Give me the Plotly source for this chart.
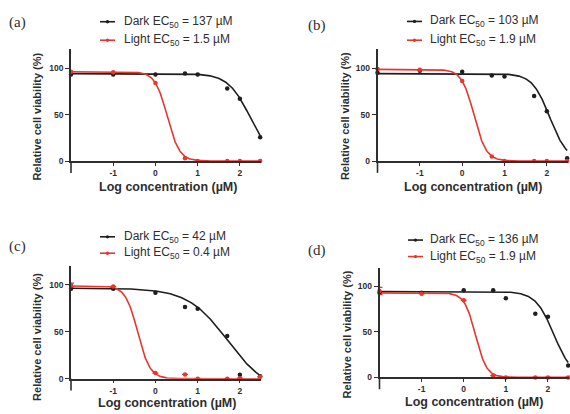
import numpy as np
import plotly.graph_objects as go

W, H = 570, 414

# ---------------- data ----------------
log_conc = [-2, -1, 0, 0.7, 1, 1.7, 2, 2.48]

panel_labels = ["(a)", "(b)", "(c)", "(d)"]
dark_ec50_text = ["137", "103", "42", "136"]
light_ec50_text = ["1.5", "1.9", "0.4", "1.9"]

dark_a = [93, 93, 93, 94, 93, 78, 67, 25.5]
light_a = [96, 95.5, 84, 3, 0, 0, 0, 0]
dark_b = [95, 97, 96, 92, 91, 70, 53.5, 3]
light_b = [99, 98, 86, 5, 0, 0, 0, 0]
dark_c = [96, 96, 91.6, 76.4, 74.7, 45.6, 4.2, 2.7]
light_c = [100, 98.5, 6, 4.5, 0, 0, 0.5, 2]
dark_d = [93, 93, 96, 96, 87, 70, 66.6, 13]
light_d = [95, 92, 85, 2, 0, 0, 0, 0]
light_err_c = [2, 0, 0, 0, 0, 0, 0, 0]
light_err_d = [4, 0, 0, 0, 0, 0, 0, 0]

# fitted four-parameter logistic curves: top, bottom, logEC50, hill slope
dark_top = [94, 94, 96.5, 94.5]
dark_bottom = [0, 0, -15, 0]
dark_logec = [2.245, 2.07, 1.71, 2.14]
dark_hill = [1.65, 2.1, 0.92, 2.0]
light_top = [96, 98.5, 99, 93]
light_bottom = [0, 0, 0, 0]
light_logec = [0.28, 0.28, -0.42, 0.28]
light_hill = [3.0, 3.0, 3.0, 3.3]

x_ticks = [-1, 0, 1, 2]
y_ticks = [0, 50, 100]

darks = [dark_a, dark_b, dark_c, dark_d]
lights = [light_a, light_b, light_c, light_d]
light_errs = [None, None, light_err_c, light_err_d]

# ---------------- layout geometry (pixels) ----------------
panels = [
    dict(x0=71, x1=261, y0=50, y1=163),
    dict(x0=377.5, x1=568, y0=50, y1=163),
    dict(x0=71, x1=261, y0=269.5, y1=383.3),
    dict(x0=379.5, x1=569, y0=271.6, y1=382),
]
legend_pos = [
    dict(lx=100, tx=122, y1=22, y2=40.7),
    dict(lx=407, tx=428, y1=21.7, y2=40.7),
    dict(lx=100, tx=122, y1=239.7, y2=256.3),
    dict(lx=408, tx=428, y1=243, y2=259.7),
]
label_pos = [(17, 23), (317, 26), (17, 250), (317, 254)]
xtitle_pos = [(167.5, 189.5), (472.5, 189), (167, 408), (474, 407)]
ytitle_pos = [(37, 118), (345, 117.5), (37, 341), (346.5, 339)]

BLACK = "#1e1e1e"
RED = "#e8352e"
AXIS = "#2e2e2e"
TEXT = "#2e2e2e"


def px(x):
    return x / W


def py(y):
    return 1 - y / H


def hill(x, top, bottom, logec, h):
    return bottom + (top - bottom) / (1 + 10 ** ((x - logec) * h))


fig = go.Figure()
shapes = []
annotations = []
xfine = np.linspace(-2, 2.48, 300)

for i in range(4):
    p = panels[i]
    sfx = "" if i == 0 else str(i + 1)
    xa, ya = "x" + sfx, "y" + sfx

    # fitted curves
    fig.add_trace(go.Scatter(
        x=xfine, y=hill(xfine, dark_top[i], dark_bottom[i], dark_logec[i], dark_hill[i]),
        mode="lines", line=dict(color=BLACK, width=1.6), xaxis=xa, yaxis=ya,
        showlegend=False, hoverinfo="skip"))
    fig.add_trace(go.Scatter(
        x=xfine, y=hill(xfine, light_top[i], light_bottom[i], light_logec[i], light_hill[i]),
        mode="lines", line=dict(color=RED, width=1.6), xaxis=xa, yaxis=ya,
        showlegend=False, hoverinfo="skip"))
    # data points
    fig.add_trace(go.Scatter(
        x=log_conc, y=darks[i], mode="markers",
        marker=dict(color=BLACK, size=4.5), xaxis=xa, yaxis=ya,
        showlegend=False, cliponaxis=False))
    err = light_errs[i]
    fig.add_trace(go.Scatter(
        x=log_conc, y=lights[i], mode="markers",
        marker=dict(color=RED, size=4.5), xaxis=xa, yaxis=ya,
        error_y=(dict(type="data", array=err, color=RED, thickness=1.2, width=3)
                 if err is not None else None),
        showlegend=False, cliponaxis=False))

    fig.update_layout(**{
        "xaxis" + sfx: dict(
            domain=[px(p["x0"]), px(p["x1"])], range=[-2, 2.5], anchor=ya,
            showgrid=False, zeroline=False, showline=True, linecolor=AXIS, linewidth=1.6,
            tickvals=x_ticks, ticktext=[str(t) for t in x_ticks],
            ticks="outside", ticklen=3, tickwidth=1.2, tickcolor=AXIS,
            tickfont=dict(family="Arial", size=8.5, color=TEXT, weight="bold"),
        ),
        "yaxis" + sfx: dict(
            domain=[py(p["y1"]), py(p["y0"])], range=[0, 120], anchor=xa,
            showgrid=False, zeroline=False, showline=True, linecolor=AXIS, linewidth=1.6,
            tickvals=y_ticks, ticks="outside", ticklen=4, tickwidth=1.2, tickcolor=AXIS,
            tickfont=dict(family="Arial", size=8.5, color=TEXT, weight="bold"),
        ),
    })

    # y axis extends below the x axis (GraphPad style)
    shapes.append(dict(type="line", xref=xa + " domain", yref=ya + " domain",
                       x0=0, x1=0, y0=0, y1=-12 / (p["y1"] - p["y0"]),
                       line=dict(color=AXIS, width=1.6)))

    # legend
    lp = legend_pos[i]
    for (yy, col, txt) in [
        (lp["y1"], BLACK, "Dark EC<sub>50</sub> = %s µM" % dark_ec50_text[i]),
        (lp["y2"], RED, "Light EC<sub>50</sub> = %s µM" % light_ec50_text[i]),
    ]:
        shapes.append(dict(type="line", xref="paper", yref="paper",
                           x0=px(lp["lx"]), x1=px(lp["lx"] + 15), y0=py(yy), y1=py(yy),
                           line=dict(color=col, width=1.6)))
        shapes.append(dict(type="circle", xref="paper", yref="paper",
                           x0=px(lp["lx"] + 5.8), x1=px(lp["lx"] + 9.2),
                           y0=py(yy + 1.7), y1=py(yy - 1.7),
                           fillcolor=col, line=dict(color=col, width=0)))
        annotations.append(dict(xref="paper", yref="paper", x=px(lp["tx"]), y=py(yy),
                                xanchor="left", yanchor="middle", showarrow=False,
                                text=txt, font=dict(family="Arial", size=12, color=TEXT)))

    # panel label
    lx, ly = label_pos[i]
    annotations.append(dict(xref="paper", yref="paper", x=px(lx), y=py(ly),
                            xanchor="center", yanchor="middle", showarrow=False,
                            text=panel_labels[i],
                            font=dict(family="Liberation Serif", size=15, color=TEXT)))
    # axis titles
    tx, ty = xtitle_pos[i]
    annotations.append(dict(xref="paper", yref="paper", x=px(tx), y=py(ty),
                            xanchor="center", yanchor="middle", showarrow=False,
                            text="Log concentration (µM)",
                            font=dict(family="Arial", size=12.5, color=TEXT, weight="bold")))
    tx, ty = ytitle_pos[i]
    annotations.append(dict(xref="paper", yref="paper", x=px(tx), y=py(ty),
                            xanchor="center", yanchor="middle", showarrow=False,
                            textangle=-90, text="Relative cell viability (%)",
                            font=dict(family="Arial", size=11, color=TEXT, weight="bold")))

fig.update_layout(
    width=W, height=H, margin=dict(l=0, r=0, t=0, b=0),
    paper_bgcolor="white", plot_bgcolor="white",
    shapes=shapes, annotations=annotations, showlegend=False,
)

fig.write_html("out.html", config={"displayModeBar": False},
               post_script="document.body.style.margin='0';document.body.style.overflow='hidden';")
